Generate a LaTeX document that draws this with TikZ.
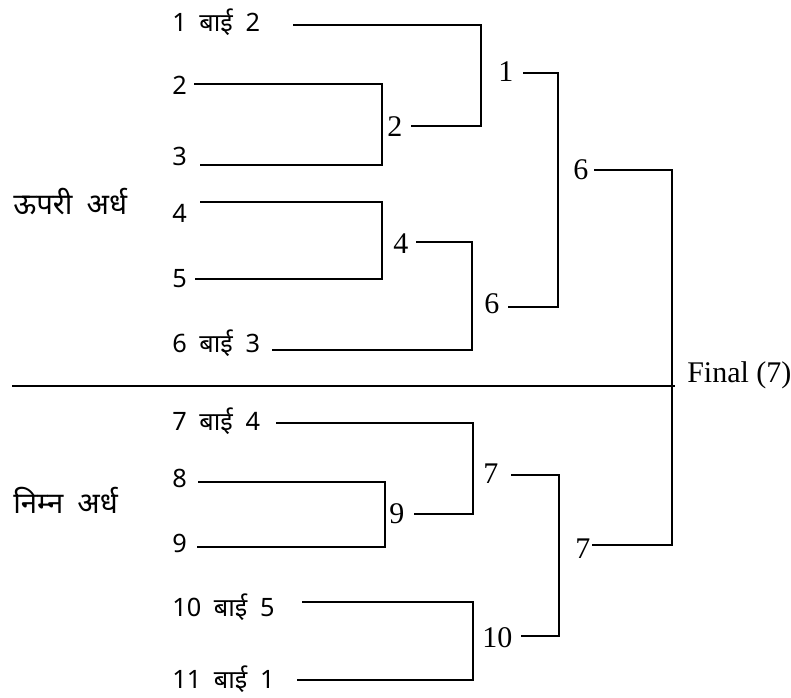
\documentclass[tikz,border=0pt]{standalone}
\usepackage{fontspec}
\setmainfont{Liberation Serif}
\newfontfamily\hindi[Script=Devanagari]{Noto Sans}
\usepackage{tikz}

\begin{document}
\begin{tikzpicture}[x=0.75pt,y=-0.75pt]
		\useasboundingbox (0,0) rectangle (791,698);
		\begin{scope}[every node/.style={anchor=base west,inner sep=0pt,font={\hindi\fontsize{22}{26}\selectfont\spaceskip 0.48em\relax}}]
			\node (up) at (13,215) {ऊपरी अर्ध};
			\node (low) at (13,513) {निम्न अर्ध};
		\end{scope}

		\begin{scope}[every node/.style={anchor=base west,inner sep=0pt,font={\hindi\fontsize{19}{22}\selectfont\spaceskip 0.5em\relax}}]
			\node (a1) at (172,32) {1 बाई 2};
			\node (a2) at (172,95) {2};
			\node (a3) at (172,166) {3};
			\node (a4) at (172,223) {4};
			\node (a5) at (172,287) {5};
			\node (a6) at (172,352) {6 बाई 3};
			\node (a7) at (172,430) {7 बाई 4};
			\node (a8) at (172,487) {8};
			\node (a9) at (172,552) {9};
			\node (a10) at (172,616) {10 बाई 5};
			\node (a11) at (172,688) {11 बाई 1};
		\end{scope}

		\begin{scope}[every node/.style={anchor=base west,inner sep=0pt,font=\fontsize{22.5}{26}\selectfont}]
			\node (w2) at (387,137) {2};
			\node (w1) at (498,82) {1};
			\node (w4) at (393,254) {4};
			\node (w6) at (484,313) {6};
			\node (u6) at (573,180) {6};
			\node (fin) at (687,382) {Final (7)};
			\node (w7) at (483,483) {7};
			\node (w9) at (389,523) {9};
			\node (u7) at (575,558) {7};
			\node (w10) at (482,647) {10};
		\end{scope}

		\coordinate (s1) at (293,25);
		\coordinate (s2) at (194,84);
		\coordinate (s3) at (200,165);
		\coordinate (s4) at (200,202);
		\coordinate (s5) at (195,279);
		\coordinate (s6) at (272,350);
		\coordinate (s7) at (276,423);
		\coordinate (s8) at (198,482);
		\coordinate (s9) at (197,547);
		\coordinate (s10) at (302,602);
		\coordinate (s11) at (297,680);
		\coordinate (w2s) at (411,126);
		\coordinate (w1s) at (523,73);
		\coordinate (w4s) at (416,242);
		\coordinate (w6s) at (508,307);
		\coordinate (u6s) at (594,170);
		\coordinate (w7s) at (511,475);
		\coordinate (w9s) at (414,514);
		\coordinate (u7s) at (592,545);
		\coordinate (w10s) at (521,636);
		\coordinate (b23) at (382,165);
		\coordinate (b45) at (382,279);
		\coordinate (b12) at (481,126);
		\coordinate (b46) at (472,350);
		\coordinate (b16) at (558,307);
		\coordinate (bF) at (672,545);
		\coordinate (b89) at (385,547);
		\coordinate (b79) at (473,514);
		\coordinate (b1011) at (473,680);
		\coordinate (b710) at (559,636);
		\coordinate (sepL) at (12,386);
		\coordinate (sepR) at (675,386);

		\begin{scope}[line width=1.4pt]
			\draw (s2) -| (b23) -- (s3);
			\draw (s4) -| (b45) -- (s5);
			\draw (s1) -| (b12) -- (w2s);
			\draw (w4s) -| (b46) -- (s6);
			\draw (w1s) -| (b16) -- (w6s);
			\draw (u6s) -| (bF) -- (u7s);
			\draw (s8) -| (b89) -- (s9);
			\draw (s7) -| (b79) -- (w9s);
			\draw (s10) -| (b1011) -- (s11);
			\draw (w7s) -| (b710) -- (w10s);
			\draw[line width=2pt] (sepL) -- (sepR);
		\end{scope}
\end{tikzpicture}
\end{document}
